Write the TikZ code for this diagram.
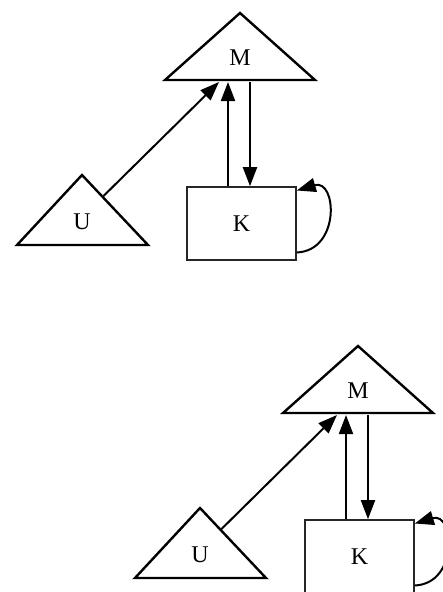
\documentclass[tikz,border=0pt]{standalone}
\usepackage{fontspec}
\setmainfont{Liberation Serif}
\usetikzlibrary{arrows.meta}

\tikzset{
  tri/.style={draw=black, line width=2.4pt, line join=miter},
  boxnode/.style={draw=black!85, line width=1.6pt, rectangle, minimum width=109pt,
    minimum height=73pt, inner sep=0pt},
  lbl/.style={inner sep=0pt, font=\fontsize{24}{24}\selectfont},
  edge/.style={draw=black, line width=2pt,
    -{Triangle[length=19pt, width=14pt]}},
  % one copy of the U / M / K graph
  mkgraph/.pic={
    % triangles M and U
    \draw[tri] (165,80) -- (240,13) -- (315,80) -- cycle;
    \draw[tri] (17,245) -- (82,175) -- (148,245) -- cycle;
    \node[lbl] (-M) at (240,58) {M};
    \node[lbl] (-U) at (82,222) {U};
    \node[boxnode] (-K) at (241.5,223.5) {};
    \node[lbl] at (-K.center) {K};
    % anchor points on the triangles
    \coordinate (-Uout) at (103.5,196);
    \coordinate (-Min)  at (219,82);
    \coordinate (-Mup)  at (228,82);
    \coordinate (-Mdn)  at (250,82);
    % connectors
    \draw[edge] (-Uout) -- (-Min);
    \draw[edge] (-K.north -| -Mup) -- (-Mup);
    \draw[edge] (-Mdn) -- (-K.north -| -Mdn);
    \draw[edge] ([yshift=-29pt]-K.east) .. controls +(44pt,2pt) and +(40pt,12pt)
      .. ([yshift=33pt]-K.east);
  }
}

\begin{document}
\begin{tikzpicture}[x=1pt, y=-1pt]
  \useasboundingbox (0,0) rectangle (443,592);
  \clip (0,0) rectangle (443,592);
  \pic (upper) at (0,0) {mkgraph};
  \pic (lower) at (118,333) {mkgraph};
\end{tikzpicture}
\end{document}
